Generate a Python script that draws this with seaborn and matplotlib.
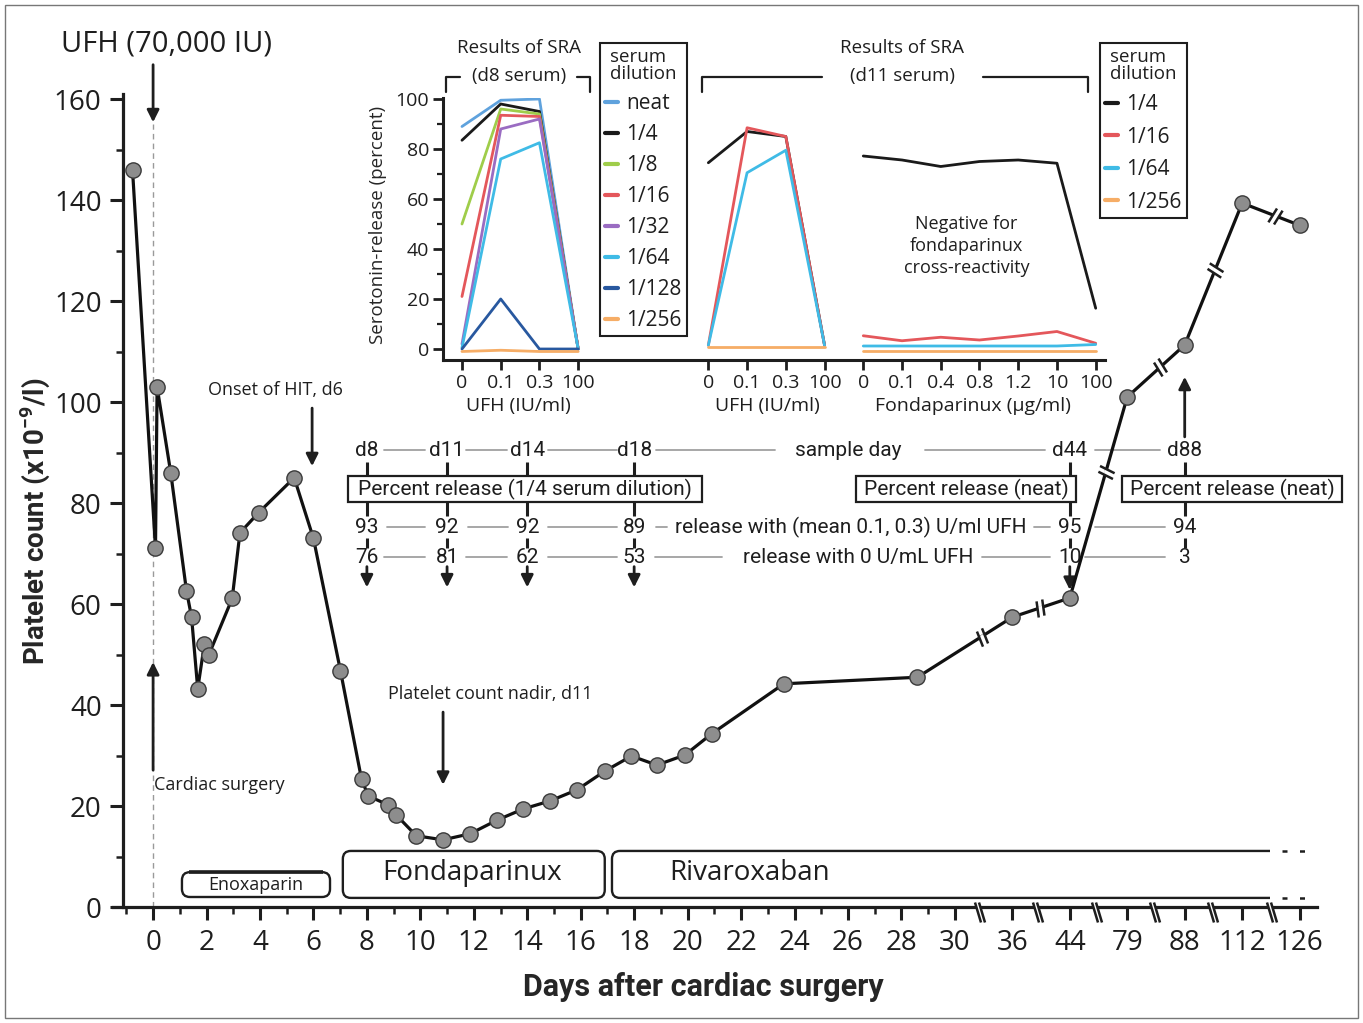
import numpy as np
import matplotlib
matplotlib.use("Agg")
import matplotlib.pyplot as plt
import seaborn as sns
from matplotlib.path import Path
from matplotlib.markers import MarkerStyle
from matplotlib.transforms import Affine2D
from matplotlib.patches import FancyBboxPatch, Rectangle
from matplotlib.lines import Line2D

# ---- platelet count course (x10^9/l) ----
days = [-0.77, 0.09, 0.15, 0.66, 1.25, 1.44, 1.67, 1.92, 2.09, 2.96,
        3.25, 3.95, 5.28, 6.0, 7.01, 7.8, 8.05, 8.8, 9.1, 9.85,
        10.85, 11.86, 12.87, 13.84, 14.85, 15.86, 16.9, 17.9, 18.85, 19.9,
        20.9, 23.6, 28.6, 36, 44, 79, 88, 112, 126]
platelets = [146, 71, 103, 86, 62.6, 57.4, 43.2, 52.1, 50, 61.1,
             74.1, 78.1, 85, 73, 46.8, 25.3, 22, 20.2, 18.2, 14.1,
             13.3, 14.5, 17.2, 19.4, 21, 23.2, 26.9, 29.9, 28.1, 30.1,
             34.3, 44.2, 45.5, 57.4, 61.2, 101, 111.3, 139.4, 135]

# compressed (broken) part of the day axis
axis_days = [30, 36, 44, 79, 88, 112, 126]
axis_slots = [30, 32.15, 34.3, 36.45, 38.6, 40.75, 42.9]
tick_days = list(range(0, 31, 2)) + [36, 44, 79, 88, 112, 126]

# ---- serotonin release assay ----
ufh_doses = ["0", "0.1", "0.3", "100"]
fonda_doses = ["0", "0.1", "0.4", "0.8", "1.2", "10", "100"]

d8_dilutions = ["neat", "1/4", "1/8", "1/16", "1/32", "1/64", "1/128", "1/256"]
d8_neat = [89, 99.5, 100, 0]
d8_1_4 = [83.5, 98, 95, 0]
d8_1_8 = [50, 96, 94, 0]
d8_1_16 = [21, 93.5, 93, 0]
d8_1_32 = [2, 88, 92, 0]
d8_1_64 = [0.5, 76, 82.5, 0]
d8_1_128 = [0, 20, 0, 0]
d8_1_256 = [-1, -0.5, -1, -1]

d11_dilutions = ["1/4", "1/16", "1/64", "1/256"]
d11_ufh_1_4 = [74.5, 87, 85, 1.5]
d11_ufh_1_16 = [1.5, 88.5, 85, 1.5]
d11_ufh_1_64 = [1.5, 70.5, 79.5, 1.5]
d11_ufh_1_256 = [1, 1, 1, 1]
d11_fonda_1_4 = [77.2, 75.6, 73, 75, 75.6, 74.3, 16.3]
d11_fonda_1_16 = [5.3, 3.3, 4.7, 3.6, 5.2, 7, 2.3]
d11_fonda_1_64 = [1.2, 1.2, 1.2, 1.2, 1.2, 1.2, 1.8]
d11_fonda_1_256 = [-0.7, -0.7, -0.7, -0.7, -0.7, -0.7, -0.7]

# ---- table of sample days ----
sample_days = [8, 11, 14, 18, 44, 88]
release_ufh = [93, 92, 92, 89, 95, 94]
release_zero = [76, 81, 62, 53, 10, 3]

colors = {"neat": "#5fa2dd", "1/4": "#1a1a1a", "1/8": "#9fcd4a", "1/16": "#e4575b",
          "1/32": "#9a6cc2", "1/64": "#3fbbe6", "1/128": "#28589f", "1/256": "#f6ad66"}
TEXT = "#1e1e1e"
GRAY = "#a0a0a0"
W, H = 1363, 1023
NARROW = ["Roboto", "DejaVu Sans"]

sns.set_theme(style="ticks")
plt.rcParams["font.family"] = ["Open Sans", "DejaVu Sans"]
plt.rcParams["mathtext.fontset"] = "custom"
plt.rcParams["mathtext.rm"] = "Roboto"
plt.rcParams["mathtext.bf"] = "Roboto:bold"
plt.rcParams["text.color"] = TEXT
plt.rcParams["axes.edgecolor"] = TEXT
plt.rcParams["xtick.color"] = TEXT
plt.rcParams["ytick.color"] = TEXT


def to_pos(d):
    d = np.asarray(d, float)
    return np.where(d <= 30, d, np.interp(d, axis_days, axis_slots))


def draw_break(ax, x, y, angle, lines, gap, mew=1.8, zorder=6):
    rot = Affine2D().rotate_deg(angle)
    line_path = Path(lines, [Path.MOVETO, Path.LINETO] * (len(lines) // 2))
    gap_path = Path(gap + [gap[0]], [Path.MOVETO] + [Path.LINETO] * (len(gap) - 1) + [Path.CLOSEPOLY])
    styles = [(gap_path, dict(markerfacecolor="white", markeredgecolor="white", markeredgewidth=0.6)),
              (line_path, dict(markerfacecolor="none", markeredgecolor=TEXT, markeredgewidth=mew))]
    for path, kw in styles:
        size = 2 * np.abs(path.vertices).max() * 0.72
        ax.plot([x], [y], marker=MarkerStyle(path, transform=rot), markersize=size,
                linestyle="none", clip_on=False, zorder=zorder, **kw)


fig = plt.figure(figsize=(W / 100, H / 100), dpi=100)
fig.patches.append(Rectangle((5 / W, 5 / H), 1353 / W, 1013 / H, transform=fig.transFigure,
                             fill=False, edgecolor="#777777", lw=1))

# ================= main platelet count axes =================
ax = fig.add_axes([113 / W, 1 - 907 / H, 1204 / W, 813 / H])
ax.set_xlim(-1.5, 43.55)
ax.set_ylim(0, 161)
sns.despine(ax=ax)
ax.spines["left"].set_position(("data", -1.12))
for s in ("left", "bottom"):
    ax.spines[s].set_linewidth(2.3)

ax.set_xticks(to_pos(tick_days), [str(d) for d in tick_days])
ax.set_xticks(list(range(-1, 30, 2)), minor=True)
ax.set_yticks(range(0, 161, 20))
ax.set_yticks(range(10, 160, 20), minor=True)
ax.tick_params(which="major", length=9.5, width=2.2, labelsize=20, pad=6)
ax.tick_params(which="minor", length=5, width=1.8)
ax.tick_params(axis="y", pad=6)

ax.set_xlabel("Days after cardiac surgery", fontsize=22, fontweight="bold",
              family=NARROW, va="center")
ax.xaxis.set_label_coords((703 - 113) / 1204, -80 / 813)
ax.set_ylabel(r"Platelet count (x10$^{\mathbf{-9}}$/l)", fontsize=20, fontweight="bold",
              family=NARROW, va="center")
ax.yaxis.set_label_coords((35 - 113) / 1204, (907 - 521) / 813)

xs = to_pos(days)
sns.lineplot(x=xs, y=platelets, ax=ax, color="#111111", lw=2.3, sort=False, errorbar=None,
             marker="o", markersize=11, markerfacecolor="#8d8d8d", markeredgecolor="#3a3a3a",
             markeredgewidth=1.0, zorder=5)

# day-zero reference
ax.plot([0, 0], [0, 155], color="#9a9a9a", lw=1, ls=(0, (4, 3)), zorder=1)

arrow = dict(arrowstyle="-|>", color=TEXT, lw=2, mutation_scale=18, shrinkA=0, shrinkB=0)
ax.annotate("", xy=(0, 155.4), xytext=(0, 166.8), arrowprops=arrow, annotation_clip=False)
ax.text(0.49, 171, "UFH (70,000 IU)", fontsize=21, ha="center", va="center", clip_on=False)
ax.annotate("", xy=(0, 48.5), xytext=(0, 27.1), arrowprops=arrow)
ax.text(0.03, 24.2, "Cardiac surgery", fontsize=13, ha="left", va="center")
ax.annotate("", xy=(5.95, 87.3), xytext=(5.95, 98.8), arrowprops=arrow)
ax.text(4.56, 102.4, "Onset of HIT, d6", fontsize=13, ha="center", va="center")
ax.annotate("", xy=(10.85, 24.2), xytext=(10.85, 38.6), arrowprops=arrow)
ax.text(12.6, 42.2, "Platelet count nadir, d11", fontsize=13, ha="center", va="center")

# axis breaks and line breaks
fig.canvas.draw()
ax_lines = [(-5.5, 5), (0.5, -15), (-1.5, 5), (4.5, -15)]
ax_gap = [(-4.75, 2.5), (-0.75, 2.5), (0.75, -2.5), (-3.25, -2.5)]
for xb in [30.94, 33.1, 35.3, 37.5, 39.66, 41.86]:
    draw_break(ax, xb, 0, 0, ax_lines, ax_gap, mew=1.8, zorder=7)

ln_lines = [(-4.5, -8), (-1.5, 8), (1.5, -8), (4.5, 8)]
ln_gap = [(-3.41, -2.2), (2.59, -2.2), (3.41, 2.2), (-2.59, 2.2)]
for xb in [31.0, 33.18, 35.65, 37.67, 39.73, 41.98]:
    yb = np.interp(xb, xs, platelets)
    i = np.searchsorted(xs, xb) - 1
    p0 = ax.transData.transform((xs[i], platelets[i]))
    p1 = ax.transData.transform((xs[i + 1], platelets[i + 1]))
    ang = np.degrees(np.arctan2(p1[1] - p0[1], p1[0] - p0[0]))
    draw_break(ax, xb, yb, ang, ln_lines, ln_gap, mew=1.8, zorder=6)

# drug boxes
p0 = ax.transData.transform((0, 0))
p1 = ax.transData.transform((1, 1))
aspect = (p1[0] - p0[0]) / (p1[1] - p0[1])
box_kw = dict(boxstyle="round,pad=0,rounding_size=0.3", mutation_aspect=aspect,
              fc="white", ec=TEXT, lw=1.7, zorder=2)
ax.add_patch(FancyBboxPatch((1.08, 1.98), 5.54, 4.92, **box_kw))
ax.plot([1.35, 6.35], [6.9, 6.9], color=TEXT, lw=2.6, solid_capstyle="butt", zorder=3)
ax.text(3.85, 4.4, "Enoxaparin", fontsize=13, ha="center", va="center", zorder=3)
ax.add_patch(FancyBboxPatch((7.1, 1.8), 9.8, 9.3, **box_kw))
ax.text(11.93, 6.8, "Fondaparinux", fontsize=20, ha="center", va="center", zorder=3)
riva = FancyBboxPatch((17.17, 1.8), 30, 9.3, **box_kw)
ax.add_patch(riva)
riva.set_clip_path(Rectangle((16, -2), 41.8 - 16, 20, transform=ax.transData))
ax.text(22.3, 6.8, "Rivaroxaban", fontsize=20, ha="center", va="center", zorder=3)
for yy in (1.8, 11.1):
    ax.plot([42.25, 43.2], [yy, yy], color=TEXT, lw=1.8, ls=(0, (2, 5)), zorder=3)

# table of sample days
tkw = dict(fontsize=15, ha="center", va="center", family=NARROW, zorder=4)
cols = to_pos(sample_days)
for x, d, a, b in zip(cols, sample_days, release_ufh, release_zero):
    ax.text(x, 90.5, f"d{d}", **tkw)
    ax.text(x, 75.2, str(a), **tkw)
    ax.text(x, 69.3, str(b), **tkw)
    for y0, y1 in ((88.1, 85.3), (80.2, 77.4), (73.1, 71.1)):
        ax.plot([x, x], [y0, y1], color=TEXT, lw=2.2, solid_capstyle="butt", zorder=4)
for x in cols[:4]:
    ax.annotate("", xy=(x, 63.3), xytext=(x, 67.4), arrowprops=arrow)
ax.annotate("", xy=(cols[4], 62.8), xytext=(cols[4], 67.4), arrowprops=arrow)
ax.annotate("", xy=(cols[5], 105), xytext=(cols[5], 93.1), arrowprops=arrow)

ax.text(26.0, 90.5, "sample day", **tkw)
ax.text(26.1, 75.2, "release with (mean 0.1, 0.3) U/ml UFH", **tkw)
ax.text(26.4, 69.3, "release with 0 U/mL UFH", **tkw)
gray_segments = {
    90.5: [(8.64, 10.18), (11.71, 13.24), (14.78, 17.36), (18.82, 23.27), (28.88, 33.37), (35.24, 37.67)],
    75.2: [(8.75, 10.18), (11.78, 13.28), (14.78, 17.36), (18.82, 19.23), (32.96, 33.56), (35.24, 37.86)],
    69.3: [(8.64, 10.18), (11.71, 13.24), (14.78, 17.36), (18.78, 21.29), (31.01, 33.56), (34.87, 37.86)],
}
for yy, segs in gray_segments.items():
    for a, b in segs:
        ax.plot([a, b], [yy, yy], color=GRAY, lw=1.3, zorder=3)

for x0, x1, label in ((7.3, 20.54, "Percent release (1/4 serum dilution)"),
                      (26.3, 34.53, "Percent release (neat)"),
                      (36.25, 44.48, "Percent release (neat)")):
    ax.add_patch(Rectangle((x0, 80.2), x1 - x0, 5.1, fc="white", ec=TEXT, lw=1.6,
                           zorder=3, clip_on=False))
    ax.text((x0 + x1) / 2, 82.75, label, clip_on=False, **tkw)

# ================= SRA inset =================
ax2 = fig.add_axes([443 / W, 1 - 360 / H, 662 / W, 262 / H])
ax2.patch.set_visible(False)
ax2.set_xlim(-0.49, 16.6)
ax2.set_ylim(-4.4, 100.4)
sns.despine(ax=ax2)
for s in ("left", "bottom"):
    ax2.spines[s].set_linewidth(2.2)

d8_x = np.arange(4)
d11_x = np.arange(4) + 6.36
fonda_x = np.arange(7) + 10.36

d8_series = [d8_neat, d8_1_4, d8_1_8, d8_1_16, d8_1_32, d8_1_64, d8_1_128, d8_1_256]
for lab, vals in zip(d8_dilutions, d8_series):
    sns.lineplot(x=d8_x, y=vals, ax=ax2, color=colors[lab], lw=2, sort=False, errorbar=None)
d11_ufh = [d11_ufh_1_4, d11_ufh_1_16, d11_ufh_1_64, d11_ufh_1_256]
d11_fonda = [d11_fonda_1_4, d11_fonda_1_16, d11_fonda_1_64, d11_fonda_1_256]
for lab, u, f in zip(d11_dilutions, d11_ufh, d11_fonda):
    sns.lineplot(x=d11_x, y=u, ax=ax2, color=colors[lab], lw=2, sort=False, errorbar=None)
    sns.lineplot(x=fonda_x, y=f, ax=ax2, color=colors[lab], lw=2, sort=False, errorbar=None)

ax2.set_xticks(np.r_[d8_x, d11_x, fonda_x], ufh_doses * 2 + fonda_doses)
ax2.set_yticks(range(0, 101, 20))
ax2.set_yticks(range(10, 100, 20), minor=True)
ax2.tick_params(which="major", length=7, width=2, labelsize=14, pad=3)
ax2.tick_params(which="minor", length=4, width=1.6)
ax2.set_ylabel("Serotonin-release (percent)", fontsize=13.5, va="center")
ax2.yaxis.set_label_coords((378 - 443) / 662, (360 - 225) / 262)

xt = ax2.get_xaxis_transform()
ax2.text(1.45, -0.176, "UFH (IU/ml)", transform=xt, fontsize=14, ha="center", va="center")
ax2.text(7.88, -0.176, "UFH (IU/ml)", transform=xt, fontsize=14, ha="center", va="center")
ax2.text(13.18, -0.176, "Fondaparinux (µg/ml)", transform=xt, fontsize=14, ha="center", va="center")
for xc, sub in ((1.47, "(d8 serum)"), (11.37, "(d11 serum)")):
    ax2.text(xc, 1.19, "Results of SRA", transform=xt, fontsize=13.5, ha="center", va="center")
    ax2.text(xc, 1.084, sub, transform=xt, fontsize=13.5, ha="center", va="center")
bk = dict(transform=xt, color=TEXT, lw=1.6, clip_on=False)
ax2.plot([-0.41, -0.41, -0.05], [1.023, 1.08, 1.08], **bk)
ax2.plot([2.97, 3.31, 3.31], [1.08, 1.08, 1.023], **bk)
ax2.plot([6.2, 6.2, 9.3], [1.023, 1.08, 1.08], **bk)
ax2.plot([13.46, 16.15, 16.15], [1.08, 1.08, 1.023], **bk)
ax2.text(13.02, 0.435, "Negative for\nfondaparinux\ncross-reactivity", transform=xt,
         fontsize=13, ha="center", va="center", linespacing=1.3)

# legends
legs = []
for labels, (lx, ly), spacing in ((d8_dilutions, (600, 43), 0.48), (d11_dilutions, (1100, 43), 0.55)):
    handles = [Line2D([], [], color=colors[l], lw=3) for l in labels]
    leg = fig.legend(handles, labels, title="serum\ndilution", loc="upper left",
                     bbox_to_anchor=(lx / W, 1 - ly / H), bbox_transform=fig.transFigure,
                     frameon=True, fancybox=False, edgecolor=TEXT, framealpha=1,
                     fontsize=15, title_fontsize=13.5, handlelength=0.6, handletextpad=0.4,
                     labelspacing=spacing, borderpad=0.25, borderaxespad=0)
    leg.get_frame().set_linewidth(1.5)
    leg.get_title().set_linespacing(0.9)
    legs.append(leg)

fig.canvas.draw()
for leg in legs:
    bb = leg.get_title().get_window_extent()
    y = (bb.y0 + 3) / H
    fig.add_artist(Line2D([bb.x0 / W, bb.x1 / W], [y, y], transform=fig.transFigure,
                          color=TEXT, lw=1.2))

fig.savefig("out.png", dpi=100)
plt.close(fig)
